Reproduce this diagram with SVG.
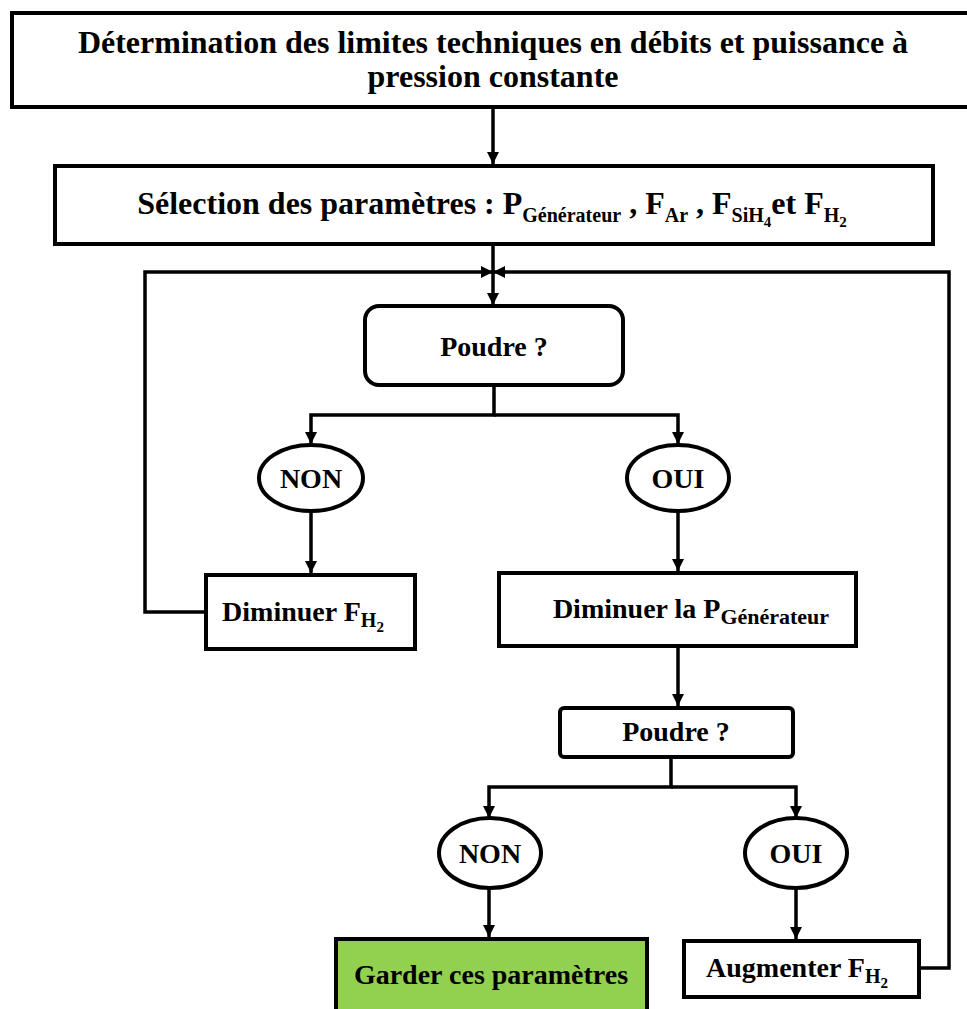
<svg xmlns="http://www.w3.org/2000/svg" width="967" height="1009" viewBox="0 0 967 1009">
<style>
.box{fill:#fff;stroke:#000;stroke-width:4}
.green{fill:#92D050;stroke:#000;stroke-width:4}
.ln{fill:none;stroke:#000;stroke-width:3.5}
text{font-family:"Liberation Serif","Times New Roman",serif;font-weight:bold;fill:#000;text-anchor:middle}
.t1{font-size:32px}
.t2{font-size:28px}
.sub{font-size:20px}
.subl{font-size:22px}
.sub2{font-size:15px}
</style>
<defs>
<marker id="ah" markerUnits="userSpaceOnUse" markerWidth="12" markerHeight="12" viewBox="0 0 12 12" refX="12" refY="6" orient="auto">
<path d="M0,0 L12,6 L0,12 Z" fill="#000"/>
</marker>
</defs>
<g id="connectors">
<line class="ln" x1="493" y1="107" x2="493" y2="164" marker-end="url(#ah)"/>
<line class="ln" x1="493" y1="246" x2="493" y2="305" marker-end="url(#ah)"/>
<polyline class="ln" points="205,612 145,612 145,272 493,272" marker-end="url(#ah)"/>
<polyline class="ln" points="920,968 949,968 949,272 493,272" marker-end="url(#ah)"/>
<polyline class="ln" points="494,386 494,415 311,415 311,444" marker-end="url(#ah)"/>
<polyline class="ln" points="494,415 678,415 678,444" marker-end="url(#ah)"/>
<line class="ln" x1="311" y1="512" x2="311" y2="573" marker-end="url(#ah)"/>
<line class="ln" x1="678" y1="512" x2="678" y2="571" marker-end="url(#ah)"/>
<line class="ln" x1="678" y1="646" x2="678" y2="706" marker-end="url(#ah)"/>
<polyline class="ln" points="671,757 671,787 489,787 489,818" marker-end="url(#ah)"/>
<polyline class="ln" points="671,787 796,787 796,818" marker-end="url(#ah)"/>
<line class="ln" x1="489" y1="888" x2="489" y2="937" marker-end="url(#ah)"/>
<line class="ln" x1="796" y1="888" x2="796" y2="939" marker-end="url(#ah)"/>
</g>
<g id="n-top">
<rect class="box" x="12" y="13" width="962" height="94"/>
<text class="t1" x="493" y="53">Détermination des limites techniques en débits et puissance à</text>
<text class="t1" x="493" y="87">pression constante</text>
</g>
<g id="n-select">
<rect class="box" x="55" y="166" width="878" height="78"/>
<text class="t1" x="492" y="214">Sélection des paramètres : P<tspan class="sub" dy="8">Générateur</tspan><tspan dy="-8"> , F</tspan><tspan class="sub" dy="8">Ar</tspan><tspan dy="-8"> , F</tspan><tspan class="sub" dy="8">SiH</tspan><tspan class="sub2" dy="5">4</tspan><tspan dy="-13">et F</tspan><tspan class="sub" dy="8">H</tspan><tspan class="sub2" dy="5">2</tspan></text>
</g>
<g id="n-poudre1">
<rect class="box" x="365" y="306" width="258" height="79" rx="14"/>
<text class="t2" x="494" y="356">Poudre ?</text>
</g>
<g id="n-non1">
<ellipse class="box" cx="311" cy="478" rx="52" ry="33"/>
<text class="t2" x="311" y="488">NON</text>
</g>
<g id="n-oui1">
<ellipse class="box" cx="678" cy="478" rx="51" ry="33"/>
<text class="t2" x="678" y="488">OUI</text>
</g>
<g id="n-dimfh2">
<rect class="box" x="206" y="575" width="209" height="74"/>
<text class="t2" x="303" y="621">Diminuer F<tspan class="sub" dy="6">H</tspan><tspan class="sub2" dy="5">2</tspan></text>
</g>
<g id="n-dimp">
<rect class="box" x="499" y="573" width="357" height="73"/>
<text class="t2" x="691" y="618">Diminuer la P<tspan class="subl" dy="6">Générateur</tspan></text>
</g>
<g id="n-poudre2">
<rect class="box" x="560" y="708" width="233" height="49" rx="4"/>
<text class="t2" x="676" y="741">Poudre ?</text>
</g>
<g id="n-non2">
<ellipse class="box" cx="490" cy="853" rx="51" ry="35"/>
<text class="t2" x="490" y="863">NON</text>
</g>
<g id="n-oui2">
<ellipse class="box" cx="796" cy="853" rx="51" ry="35"/>
<text class="t2" x="796" y="863">OUI</text>
</g>
<g id="n-garder">
<rect class="green" x="336" y="939" width="311" height="80"/>
<text class="t2" x="491" y="984">Garder ces paramètres</text>
</g>
<g id="n-augm">
<rect class="box" x="684" y="941" width="235" height="56"/>
<text class="t2" x="797" y="977">Augmenter F<tspan class="sub" dy="6">H</tspan><tspan class="sub2" dy="5">2</tspan></text>
</g>
</svg>
